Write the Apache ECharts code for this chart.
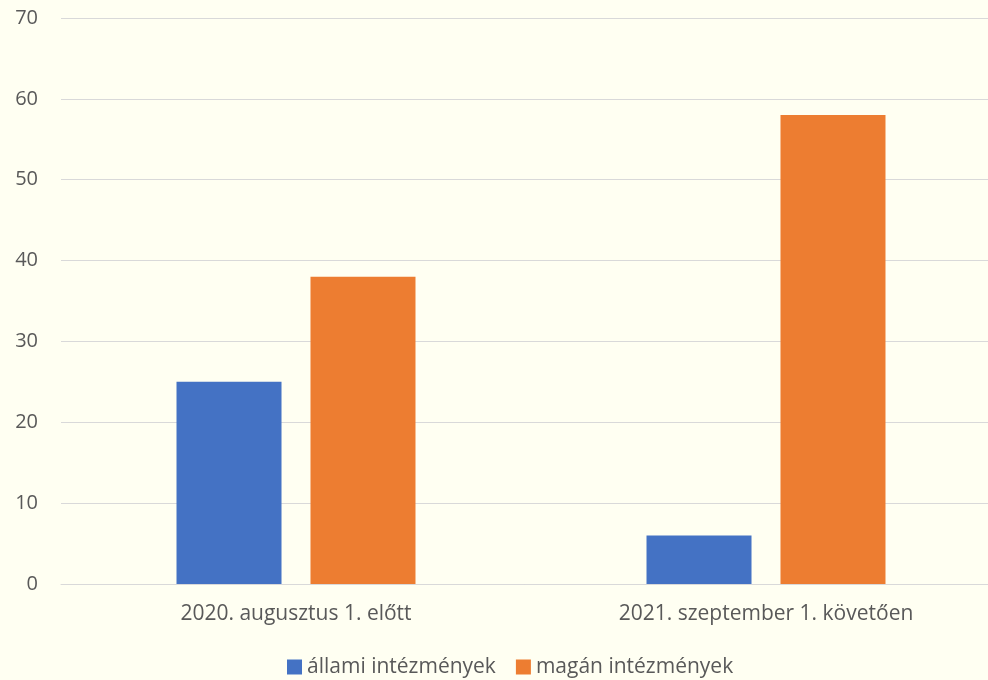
<!DOCTYPE html>
<html><head><meta charset="utf-8">
<script src="https://cdn.jsdelivr.net/npm/echarts@6/dist/echarts.min.js"></script>
<style>html,body{margin:0;padding:0;background:#FFFFF2;}#c{width:988px;height:680px;}</style>
</head><body><div id="c"></div>
<script>
const categories = ['2020. augusztus 1. előtt', '2021. szeptember 1. követően'];
const allami = [25, 6];
const magan = [38, 58];
const seriesNames = ['állami intézmények', 'magán intézmények'];

const chart = echarts.init(document.getElementById('c'), null, {renderer: 'canvas'});
const font = '"Open Sans", "Noto Sans", sans-serif';
chart.setOption({
  backgroundColor: '#FFFFF2',
  animation: false,
  textStyle: {fontFamily: font},
  grid: {left: 61, top: 18, right: -13, height: 566, containLabel: false, outerBoundsMode: 'none'},
  legend: {
    data: seriesNames,
    top: 656, left: 287, padding: 0,
    itemWidth: 15, itemHeight: 15, itemGap: 20,
    icon: 'rect',
    textStyle: {fontFamily: font, fontSize: 21, color: '#595959', lineHeight: 22, padding: [0,0,0,0]}
  },
  xAxis: {
    type: 'category', data: categories,
    axisLine: {lineStyle: {color: '#D9D9D9', width: 1}},
    axisTick: {show: false},
    axisLabel: {fontFamily: font, fontSize: 21, color: '#595959', margin: 20}
  },
  yAxis: {
    type: 'value', min: 0, max: 70, interval: 10,
    axisLine: {show: false}, axisTick: {show: false},
    splitLine: {lineStyle: {color: '#D9D9D9', width: 1}},
    axisLabel: {fontFamily: font, fontSize: 20, color: '#595959', margin: 23}
  },
  series: [
    {name: seriesNames[0], type: 'bar', data: allami, barWidth: 105, barGap: '27.6%', itemStyle: {color: '#4472C4'}},
    {name: seriesNames[1], type: 'bar', data: magan, barWidth: 105, barGap: '27.6%', itemStyle: {color: '#ED7D31'}}
  ]
});
</script></body></html>
